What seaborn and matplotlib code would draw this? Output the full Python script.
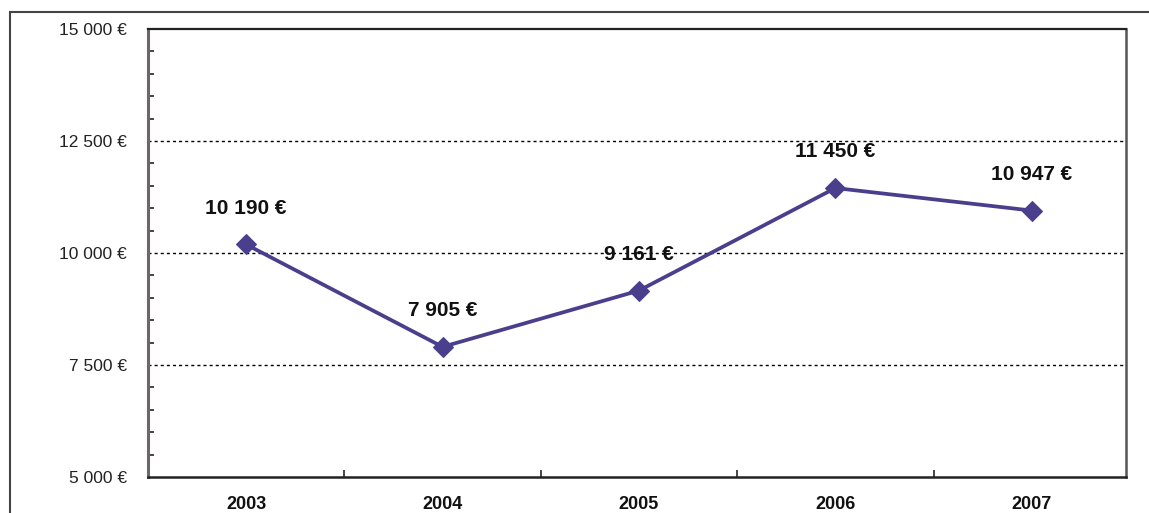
import matplotlib.pyplot as plt
import matplotlib.patches as mpatches
from matplotlib.ticker import MultipleLocator
import pandas as pd
import seaborn as sns

years = ['2003', '2004', '2005', '2006', '2007']
amounts = [10190, 7905, 9161, 11450, 10947]
amount_labels = ['10 190 €', '7 905 €', '9 161 €', '11 450 €', '10 947 €']
ytick_values = [5000, 7500, 10000, 12500, 15000]
ytick_labels = ['5 000 €', '7 500 €', '10 000 €', '12 500 €', '15 000 €']

df = pd.DataFrame({'year': years, 'amount': amounts})

sns.set_style('white')
plt.rcParams['font.family'] = ['Liberation Sans', 'DejaVu Sans']

W, H = 1149, 513
fig = plt.figure(figsize=(W / 100, H / 100), dpi=100)
ax = fig.add_axes([148 / W, (H - 477) / H, (1126 - 148) / W, (477 - 29) / H])

# outer frame of the picture (only top and left edges are visible)
fig.patches.append(mpatches.Rectangle((10 / W, -0.2), 1.2, 1.2 - 12 / H,
                                      transform=fig.transFigure, fill=False,
                                      edgecolor='#444444', linewidth=1.5))

# dotted grid lines
for v in ytick_values[1:-1]:
    ax.axhline(v, color='black', linestyle=(0, (2.2, 2.2)), linewidth=1, zorder=1)

sns.lineplot(data=df, x='year', y='amount', ax=ax, color='#4a3f8c', linewidth=2.7,
             marker='D', markersize=10, markeredgecolor='#4a3f8c', sort=False, zorder=3)

for i, (val, lab) in enumerate(zip(amounts, amount_labels)):
    ax.annotate(lab, (i, val), xytext=(0, 26), textcoords='offset points',
                ha='center', va='center', fontsize=15, fontweight='bold', color='#111111')

ax.set_xlim(-0.5, 4.48)
ax.set_ylim(5000, 15000)
ax.set_yticks(ytick_values)
ax.set_yticklabels(ytick_labels, fontsize=12.5, color='#222222')
ax.yaxis.set_minor_locator(MultipleLocator(500))
ax.set_xticks(range(len(years)))
ax.set_xticklabels(years, fontsize=13, fontweight='bold', color='#111111')
ax.set_xticks([i + 0.5 for i in range(len(years) - 1)], minor=True)

ax.tick_params(axis='y', which='major', direction='out', length=7, width=1.2, pad=8)
ax.tick_params(axis='y', which='minor', direction='in', length=4, width=1.2, left=True)
ax.tick_params(axis='x', which='major', length=0, pad=14)
ax.tick_params(axis='x', which='minor', direction='in', length=5, width=1.2, bottom=True)

ax.set_xlabel('')
ax.set_ylabel('')

ax.spines['top'].set_color('#222222')
ax.spines['top'].set_linewidth(1.6)
ax.spines['right'].set_color('#555555')
ax.spines['right'].set_linewidth(1.8)
ax.spines['left'].set_color('#6e6767')
ax.spines['left'].set_linewidth(2.2)
ax.spines['bottom'].set_color('#222222')
ax.spines['bottom'].set_linewidth(1.8)

fig.savefig('out.png', dpi=100)
